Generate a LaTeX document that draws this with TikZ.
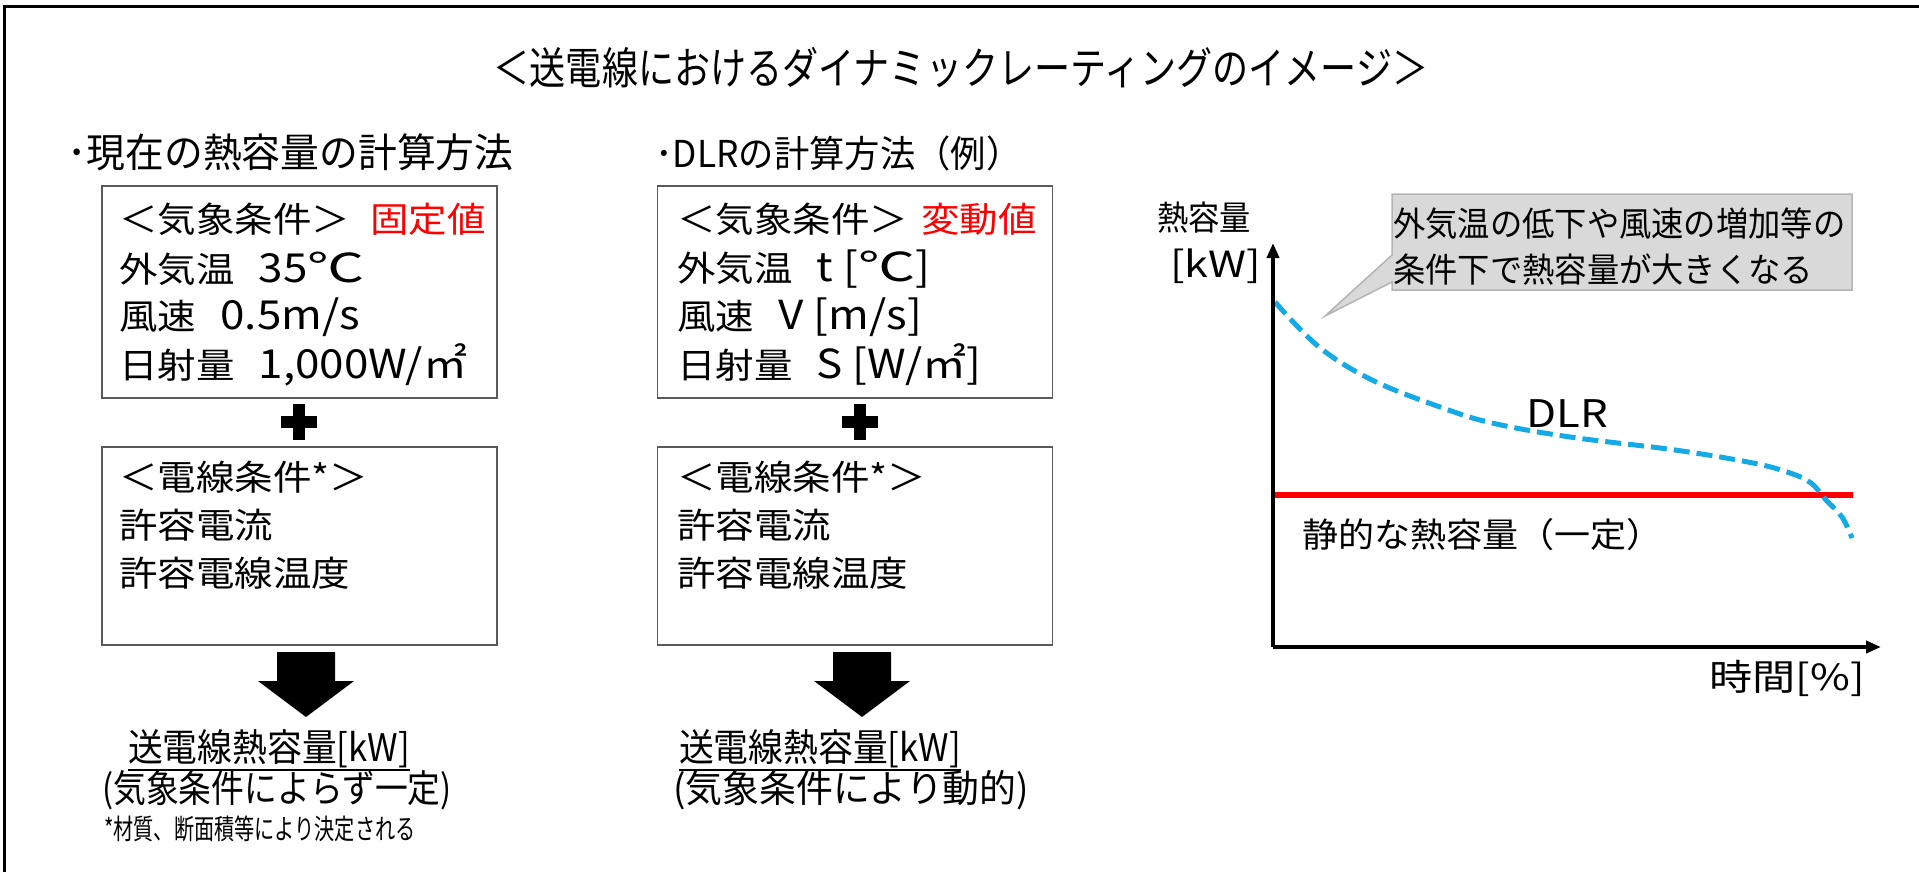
\documentclass[tikz,border=0pt]{standalone}
\usepackage{fontspec}
\usepackage{graphicx}
\usetikzlibrary{arrows.meta,calc}
\newfontfamily\jp{Noto Sans CJK JP}
\definecolor{boxgray}{RGB}{90,90,90}
\definecolor{dlrblue}{RGB}{20,170,230}
\definecolor{callfill}{RGB}{217,217,217}
\definecolor{callline}{RGB}{180,180,180}
\newcommand{\jtext}[3]{\fontsize{#1}{#1}\selectfont\scalebox{#2}[1]{#3}}
\newcommand{\jgap}{\hspace{22pt}}
\newcommand{\lat}[1]{{\fontsize{40}{40}\selectfont #1}}
\newcommand{\degc}{\scalebox{1.3}[1]{℃}}
\tikzset{
  txt/.style={inner sep=0pt, anchor=west, font=\jp},
  cbox/.style={draw=boxgray, line width=1.8pt, inner sep=0pt},
  blk/.style={fill=black, draw=none},
  ul/.style={line width=1.6pt},
  axisline/.style={line width=4pt, -{Triangle[length=15pt,width=12pt]}},
  dlrline/.style={dlrblue, line width=5pt, dash pattern=on 16pt off 7pt},
}
\begin{document}
\begin{tikzpicture}[x=1pt,y=-1pt]
\useasboundingbox (0,0) rectangle (1919,872);
% frame (top and left edges)
\draw[line width=3pt] (4.5,872) -- (4.5,6.5) -- (1919,6.5);

% title
\node[txt, anchor=center] (title) at (961,68) {\jtext{44}{0.82}{＜送電線におけるダイナミックレーティングのイメージ＞}};

% headers
\node[txt] (hL) at (67,152) {\jtext{40}{0.97}{･現在の熱容量の計算方法}};
\node[txt] (hM) at (655,153) {\jtext{37}{0.955}{･DLRの計算方法（例）}};

% ---------- left column ----------
\node[cbox, minimum width=395pt, minimum height=212pt] (b1) at (299.5,292) {};
\node[txt] (b1l1) at (119,219) {\jtext{35}{1.1}{＜気象条件＞\hspace{18pt}\textcolor{red}{固定値}}};
\node[txt] (b1l2) at (119,269) {\jtext{35}{1.1}{外気温\jgap\lat{35\degc}}};
\node[txt] (b1l3) at (119,317) {\jtext{35}{1.1}{風速\jgap\lat{0.5m/s}}};
\node[txt] (b1l4) at (119,365) {\jtext{35}{1.1}{日射量\jgap\lat{1,000W/㎡}}};

\fill[blk] (281,416) rectangle (317,428);
\fill[blk] (293,404) rectangle (305,440);

\node[cbox, minimum width=395pt, minimum height=198pt] (b2) at (299.5,546) {};
\node[txt] (b2l1) at (119,477) {\jtext{35}{1.1}{＜電線条件*＞}};
\node[txt] (b2l2) at (119,525) {\jtext{35}{1.1}{許容電流}};
\node[txt] (b2l3) at (119,573) {\jtext{35}{1.1}{許容電線温度}};

\fill[blk] (277,652) -- (335,652) -- (335,681) -- (354,681) -- (306,717) -- (258,681) -- (277,681) -- cycle;

\node[txt] (r1) at (128,749) {\jtext{38}{0.915}{送電線熱容量[kW]}};
\draw[ul] ($(r1.west)+(0,21)$) -- ($(r1.east)+(0,21)$);
\node[txt] (r1b) at (102,790) {\jtext{38}{0.863}{(気象条件によらず一定)}};
\node[txt] (foot) at (104,829) {\jtext{28}{0.72}{*材質、断面積等により決定される}};

% ---------- middle column ----------
\node[cbox, minimum width=395pt, minimum height=212pt] (b3) at (855,292) {};
\node[txt] (b3l1) at (677,219) {\jtext{35}{1.1}{＜気象条件＞\hspace{12pt}\textcolor{red}{変動値}}};
\node[txt] (b3l2) at (677,269) {\jtext{35}{1.1}{外気温\jgap\lat{t [\degc]}}};
\node[txt] (b3l3) at (677,317) {\jtext{35}{1.1}{風速\jgap\lat{V [m/s]}}};
\node[txt] (b3l4) at (677,365) {\jtext{35}{1.1}{日射量\jgap\lat{S [W/㎡]}}};

\fill[blk] (842,416) rectangle (878,428);
\fill[blk] (854,404) rectangle (866,440);

\node[cbox, minimum width=395pt, minimum height=198pt] (b4) at (855,546) {};
\node[txt] (b4l1) at (677,477) {\jtext{35}{1.1}{＜電線条件*＞}};
\node[txt] (b4l2) at (677,525) {\jtext{35}{1.1}{許容電流}};
\node[txt] (b4l3) at (677,573) {\jtext{35}{1.1}{許容電線温度}};

\fill[blk] (833,652) -- (891,652) -- (891,681) -- (910,681) -- (862,717) -- (814,681) -- (833,681) -- cycle;

\node[txt] (r2) at (679,749) {\jtext{38}{0.915}{送電線熱容量[kW]}};
\draw[ul] ($(r2.west)+(0,21)$) -- ($(r2.east)+(0,21)$);
\node[txt] (r2b) at (673,790) {\jtext{38}{0.97}{(気象条件により動的)}};

% ---------- chart ----------
\coordinate (O) at (1273,647);
\coordinate (ytip) at (1273,243);
\coordinate (xtip) at (1881,647);
\draw[red, line width=6pt] (1273,495) -- (1853,495);
\draw[dlrline] plot[smooth, tension=0.6] coordinates {(1275,302) (1319,347) (1372,380) (1440,407) (1492,423) (1570,437) (1675,450) (1753,463) (1790,473) (1811,483) (1826,500) (1842,517) (1852,538)};
\draw[axisline] (O) -- (ytip);
\draw[axisline] (O) -- (xtip);

\node[txt] (yl1) at (1157,218) {\jtext{34}{0.92}{熱容量}};
\node[txt] (yl2) at (1170,266) {\jtext{36}{1.2}{[kW]}};
\node[txt] (xl) at (1709,678) {\jtext{36}{1.2}{時間[\%]}};
\node[txt] (dlr) at (1526,414) {\jtext{38}{1.15}{DLR}};
\node[txt] (stat) at (1302,535) {\jtext{34}{1.06}{静的な熱容量（一定）}};

% callout
\draw[fill=callfill, draw=callline, line width=1.5pt] (1392,194) -- (1852,194) -- (1852,290) -- (1392,290) -- (1392,282) -- (1325,316) -- (1392,255) -- cycle;
\node[txt] (c1) at (1393,224) {\jtext{34}{0.95}{外気温の低下や風速の増加等の}};
\node[txt] (c2) at (1393,269) {\jtext{34}{0.95}{条件下で熱容量が大きくなる}};
\end{tikzpicture}
\end{document}
